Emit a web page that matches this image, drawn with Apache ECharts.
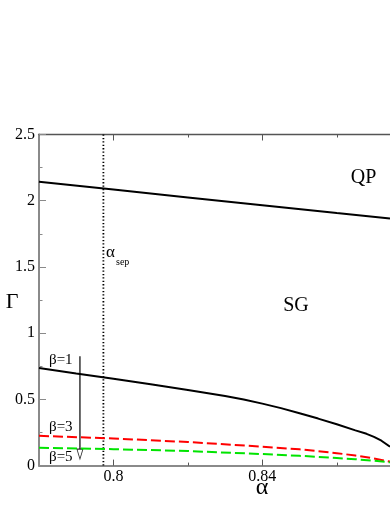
<!DOCTYPE html>
<html>
<head>
<meta charset="utf-8">
<script src="https://cdn.jsdelivr.net/npm/echarts@6/dist/echarts.min.js"></script>
<style>
html,body{margin:0;padding:0;background:#fff;}
#c{width:390px;height:505px;}
</style>
</head>
<body>
<div id="c"></div>
<script>
// ---- data ----
const alphaMin = 0.78;
const alphaMax = 0.8743;
const alphaMajorTicks = [0.8, 0.84];
const alphaMinorTicks = [0.82, 0.86];
const gammaTicks = [0, 0.5, 1, 1.5, 2, 2.5];

// QP / SG boundary
const qpAlpha = [0.78, 0.80, 0.82, 0.84, 0.86, 0.8743];
const qpGamma = [2.143, 2.084, 2.025, 1.966, 1.907, 1.866];

// beta = 1
const b1Alpha = [0.78, 0.79, 0.80, 0.81, 0.82, 0.83, 0.835, 0.84, 0.845, 0.85, 0.855, 0.86, 0.865, 0.868, 0.87, 0.872, 0.8743];
const b1Gamma = [0.737, 0.695, 0.655, 0.614, 0.571, 0.525, 0.499, 0.468, 0.434, 0.395, 0.355, 0.312, 0.266, 0.240, 0.217, 0.188, 0.142];

// beta = 3
const b3Alpha = [0.78, 0.80, 0.82, 0.84, 0.85, 0.86, 0.865, 0.87, 0.8743];
const b3Gamma = [0.225, 0.205, 0.178, 0.143, 0.123, 0.094, 0.076, 0.054, 0.030];

// beta = 5
const b5Alpha = [0.78, 0.80, 0.82, 0.84, 0.85, 0.86, 0.865, 0.87, 0.8743];
const b5Gamma = [0.135, 0.124, 0.110, 0.087, 0.074, 0.057, 0.048, 0.037, 0.025];

// alpha_sep vertical line
const alphaSep = 0.7973;

// arrow (increasing beta)
const arrowAlpha = 0.791;
const arrowGamma = [0.825, 0.125];
const arrowHeadGamma = 0.087;

const zip = (a, b) => a.map((v, i) => [v, b[i]]);
const FONT = '"Liberation Serif","Times New Roman","DejaVu Serif",Times,serif';

const chart = echarts.init(document.getElementById('c'), null, {renderer: 'canvas'});

function xAxisDef(pos, ticks, len, showLine, lineColor, lineWidth, showLabel) {
  return {
    type: 'value', min: alphaMin, max: alphaMax, position: pos, gridIndex: 0,
    axisLine: {show: showLine, onZero: false, lineStyle: {color: lineColor, width: lineWidth}},
    axisTick: {show: true, inside: true, length: len, customValues: ticks, lineStyle: {color: '#555', width: 1}},
    axisLabel: {show: showLabel, customValues: ticks, formatter: v => String(v),
      fontFamily: FONT, fontSize: 16, color: '#000', margin: 3},
    splitLine: {show: false}
  };
}

function txt(x, y, text, size, align) {
  return {type: 'text', x: x, y: y, style: {text: text, font: size + 'px ' + FONT, fill: '#000',
    align: align || 'center', verticalAlign: 'middle'}};
}

const option = {
  animation: false,
  backgroundColor: '#fff',
  textStyle: {fontFamily: FONT},
  grid: {left: 39, right: 0, top: 134.5, bottom: 39.4, containLabel: false},
  xAxis: [
    xAxisDef('bottom', alphaMajorTicks, 6, true, '#8a8a8a', 2, true),
    xAxisDef('bottom', alphaMinorTicks, 3, false, '#8a8a8a', 2, false),
    xAxisDef('top', alphaMajorTicks, 6, true, '#555', 1.3, false),
    xAxisDef('top', alphaMinorTicks, 3, false, '#555', 1.3, false)
  ],
  yAxis: [{
    type: 'value', min: 0, max: 2.5, interval: 0.5,
    axisLine: {show: true, onZero: false, lineStyle: {color: '#8a8a8a', width: 2}},
    axisTick: {show: true, inside: true, length: 7, lineStyle: {color: '#8a8a8a', width: 1}},
    minorTick: {show: true, splitNumber: 2, length: 3.5, lineStyle: {color: '#8a8a8a', width: 1}},
    axisLabel: {customValues: gammaTicks, formatter: v => String(v), fontFamily: FONT, fontSize: 16, color: '#000', margin: 4},
    splitLine: {show: false}, minorSplitLine: {show: false}
  }],
  series: [
    {type: 'line', name: 'alpha_sep', data: [[alphaSep, 0], [alphaSep, 2.5]], symbol: 'none',
      lineStyle: {color: '#000', width: 1.8, type: [1.3, 2.1]}},
    {type: 'line', name: 'QP-SG', data: zip(qpAlpha, qpGamma), symbol: 'none',
      lineStyle: {color: '#000', width: 2}},
    {type: 'line', name: 'beta=1', data: zip(b1Alpha, b1Gamma), symbol: 'none',
      lineStyle: {color: '#000', width: 2}},
    {type: 'line', name: 'beta=3', data: zip(b3Alpha, b3Gamma), symbol: 'none',
      lineStyle: {color: '#ff0000', width: 2, type: [10, 4]}},
    {type: 'line', name: 'beta=5', data: zip(b5Alpha, b5Gamma), symbol: 'none',
      lineStyle: {color: '#00e400', width: 2, type: [10, 4]}},
    {type: 'line', name: 'arrow', data: arrowGamma.map(g => [arrowAlpha, g]), symbol: 'none',
      lineStyle: {color: '#000', width: 1.2}},
    {type: 'scatter', name: 'arrowhead', data: [[arrowAlpha, arrowHeadGamma]], symbol: 'triangle',
      symbolSize: [6, 10], symbolRotate: 180,
      itemStyle: {color: '#fff', borderColor: '#000', borderWidth: 1}}
  ],
  graphic: [
    txt(12, 302, 'Γ', 22),
    txt(262, 488, 'α', 24),
    txt(363.5, 178, 'QP', 20),
    txt(296, 305.5, 'SG', 20),
    txt(106, 253, 'α', 17, 'left'),
    txt(116, 262, 'sep', 10, 'left'),
    txt(49, 360.5, 'β=1', 15, 'left'),
    txt(49, 427.5, 'β=3', 15, 'left'),
    txt(49, 457.5, 'β=5', 15, 'left')
  ]
};
chart.setOption(option);
</script>
</body>
</html>
